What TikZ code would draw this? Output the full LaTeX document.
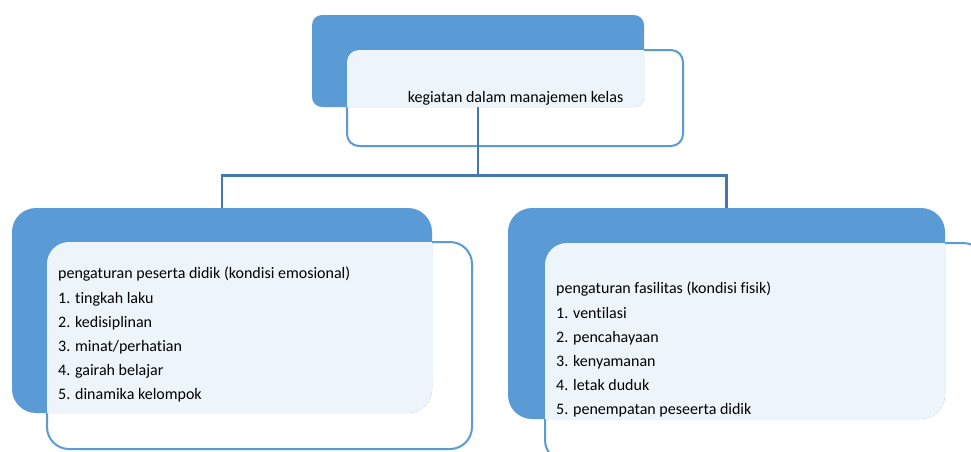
\documentclass[tikz,border=0pt]{standalone}
\usepackage{fontspec}
\setmainfont{Carlito}[Ligatures=NoCommon]
\definecolor{smartblue}{HTML}{5B9BD5}
\definecolor{linkblue}{HTML}{4677AC}

\tikzset{
  backbox/.style={fill=smartblue, inner sep=0pt, outer sep=0pt},
  frontbox/.style={draw=smartblue, line width=2pt, fill=white, inner sep=0pt, outer sep=0pt},
  link/.style={draw=linkblue, line width=2.8pt},
  listtext/.style={align=left, inner sep=0pt, anchor=north west, font=\fontsize{16}{24.2}\selectfont}
}

\begin{document}
\begin{tikzpicture}[x=1pt, y=-1pt]

  % Canvas
  \fill[white] (0,0) rectangle (971,451);
  \useasboundingbox (0,0) rectangle (971,451);
  \clip (0,0) rectangle (971,451);

  % Front boxes (border lies under the blue boxes)
  \node[frontbox, rounded corners=12pt, minimum width=336pt, minimum height=96pt] (topfront) at (515,98) {};
  \node[frontbox, rounded corners=22pt, minimum width=425pt, minimum height=207pt] (leftfront) at (259.5,345.5) {};
  \node[frontbox, rounded corners=22pt, minimum width=440pt, minimum height=219pt] (rightfront) at (765,352.5) {};

  % Blue boxes
  \node[backbox, rounded corners=10pt, minimum width=332pt, minimum height=92pt] (topback) at (478,61) {};
  \node[backbox, rounded corners=24pt, minimum width=420pt, minimum height=205pt] (leftback) at (222,310.5) {};
  \node[backbox, rounded corners=24pt, minimum width=437pt, minimum height=211pt] (rightback) at (726.5,313.5) {};

  % Connectors
  \coordinate (bus) at (478,175.5);
  \path[link] (topback.south) -- (bus);
  \path[link] (bus) -| (leftback.north);
  \path[link] (bus) -| (rightback.north);

  % Light overlay where front and blue boxes meet
  \begin{scope}
    \clip[rounded corners=12pt] (topfront.north west) rectangle (topfront.south east);
    \fill[white, opacity=0.9, rounded corners=10pt] (topback.north west) rectangle (topback.south east);
  \end{scope}
  \begin{scope}
    \clip[rounded corners=22pt] (leftfront.north west) rectangle (leftfront.south east);
    \fill[white, opacity=0.9, rounded corners=24pt] (leftback.north west) rectangle (leftback.south east);
  \end{scope}
  \begin{scope}
    \clip[rounded corners=22pt] (rightfront.north west) rectangle (rightfront.south east);
    \fill[white, opacity=0.9, rounded corners=24pt] (rightback.north west) rectangle (rightback.south east);
  \end{scope}

  % Texts
  \node[font=\fontsize{16}{19}\selectfont, inner sep=0pt] (toptext) at (515.5,98) {kegiatan dalam manajemen kelas};
  \node[listtext] (lefttext) at (58,267) {pengaturan peserta didik (kondisi emosional)\\1. tingkah laku\\2. kedisiplinan\\3. minat/perhatian\\4. gairah belajar\\5. dinamika kelompok};
  \node[listtext] (righttext) at (556,282) {pengaturan fasilitas (kondisi fisik)\\1. ventilasi\\2. pencahayaan\\3. kenyamanan\\4. letak duduk\\5. penempatan peseerta didik};

\end{tikzpicture}
\end{document}
